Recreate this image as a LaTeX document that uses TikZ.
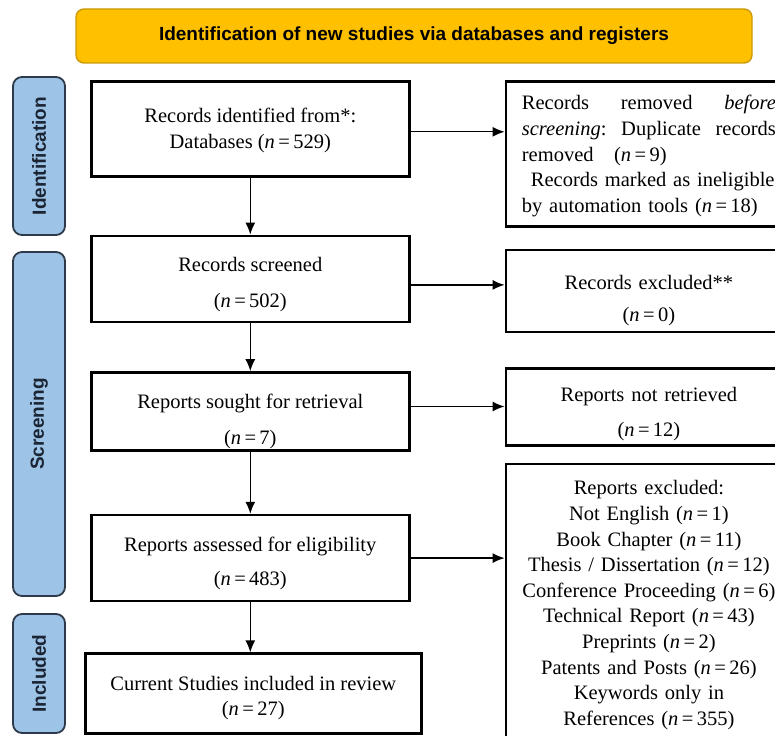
\documentclass[tikz,border=0pt]{standalone}
\usepackage{fontspec}
\setmainfont{Liberation Serif}
\newfontfamily\labelfont{Liberation Sans}
\usetikzlibrary{arrows.meta, positioning}

\definecolor{bannergold}{HTML}{FFC000}
\definecolor{bannerline}{HTML}{C99A06}
\definecolor{stageblue}{HTML}{9DC3E6}
\definecolor{stageline}{HTML}{2E3A4A}
\definecolor{stagetext}{HTML}{1B2433}

\newcommand{\textsink}[1]{\rule{0pt}{#1}}

\begin{document}
\begin{tikzpicture}[
                x=1pt, y=-1pt,
                every node/.style={font=\fontsize{20.5}{25.6}\selectfont},
                process/.style={rectangle, minimum width=318pt, draw=black, line width=2.6pt, fill=white, align=center, inner sep=0pt},
                sidebox/.style={rectangle, text width=254pt, inner xsep=16pt, inner ysep=0pt, draw=black, line width=2.6pt, fill=white, align=center},
                stage/.style={rectangle, rounded corners=9pt, rotate=90, minimum height=52pt, draw=stageline, line width=1.8pt, fill=stageblue, text=stagetext, font=\labelfont\bfseries\fontsize{19}{20}\selectfont},
                banner/.style={rectangle, rounded corners=8pt, minimum width=676pt, minimum height=54pt, draw=bannerline, line width=1.4pt, fill=bannergold, font=\labelfont\bfseries\fontsize{19}{20}\selectfont},
                arrow/.style={line width=1.4pt,->,>={Latex[length=12pt,width=10pt]}}
            ]
                \useasboundingbox (0,0) rectangle (775,735);

                % Banner and stages
                \node (title) [banner] at (414,36) {Identification of new studies via databases and registers};
                \node (identification) [stage, minimum width=158pt] at (39,156) {Identification};
                \node (screening) [stage, minimum width=344pt] at (39,424) {Screening};
                \node (included) [stage, minimum width=119pt] at (39,673.5) {Included};

                % Main column
                \node (identified) [process, minimum height=95pt, anchor=north west] at (90,80) {\textsink{18pt}Records identified from*:\\Databases (\textit{n}\,=\,529)};
                \node (screened) [process, minimum height=86pt, below=57pt of identified] {\textsink{26pt}Records screened\\[10pt](\textit{n}\,=\,502)};
                \node (sought) [process, minimum height=78pt, below=48pt of screened] {\textsink{34pt}Reports sought for retrieval\\[10pt](\textit{n}\,=\,7)};
                \node (assessed) [process, minimum height=86pt, below=62pt of sought] {\textsink{25pt}Reports assessed for eligibility\\[9pt](\textit{n}\,=\,483)};
                \node (studies) [process, minimum width=336pt, minimum height=80pt, below=50pt of assessed, xshift=3pt] {\textsink{23pt}Current Studies included in review\\(\textit{n}\,=\,27)};

                % Side column
                \node (removed) [sidebox, align=left, minimum height=145pt, right=94pt of identified.north east, anchor=north west] {\textsink{19pt}Records\hfill removed\hfill \textit{before}\\\textit{screening}:\hfill Duplicate\hfill records\\removed\quad(\textit{n}\,=\,9)\\\hspace*{9pt}Records marked as ineligible\\by automation tools (\textit{n}\,=\,18)};
                \node (excluded) [sidebox, minimum height=82pt, below=21pt of removed] {\textsink{33pt}Records excluded**\\[6pt](\textit{n}\,=\,0)};
                \node (notretrieved) [sidebox, minimum height=77pt, below=34pt of excluded] {\textsink{28pt}Reports not retrieved\\[9pt](\textit{n}\,=\,12)};
                \node (reportsexcl) [sidebox, minimum height=282pt, below=16pt of notretrieved] {Reports excluded:\\Not English (\textit{n}\,=\,1)\\Book Chapter (\textit{n}\,=\,11)\\Thesis / Dissertation (\textit{n}\,=\,12)\\Conference Proceeding (\textit{n}\,=\,6)\\Technical Report (\textit{n}\,=\,43)\\Preprints (\textit{n}\,=\,2)\\Patents and Posts (\textit{n}\,=\,26)\\Keywords only in\\References (\textit{n}\,=\,355)};

                % Arrows
                \draw [arrow] (identified) -- (screened);
                \draw [arrow] (screened) -- (sought);
                \draw [arrow] (sought) -- (assessed);
                \draw [arrow] (assessed.south) -- (assessed.south |- studies.north);
                \draw [arrow] ([yshift=-3pt]identified.east) -- ([yshift=-3pt]identified.east -| removed.west);
                \draw [arrow] ([yshift=-6pt]screened.east) -- ([yshift=-6pt]screened.east -| excluded.west);
                \draw [arrow] ([yshift=5pt]sought.east) -- ([yshift=5pt]sought.east -| notretrieved.west);
                \draw [arrow] (assessed.east) -- (assessed.east -| reportsexcl.west);

            \end{tikzpicture}
\end{document}
